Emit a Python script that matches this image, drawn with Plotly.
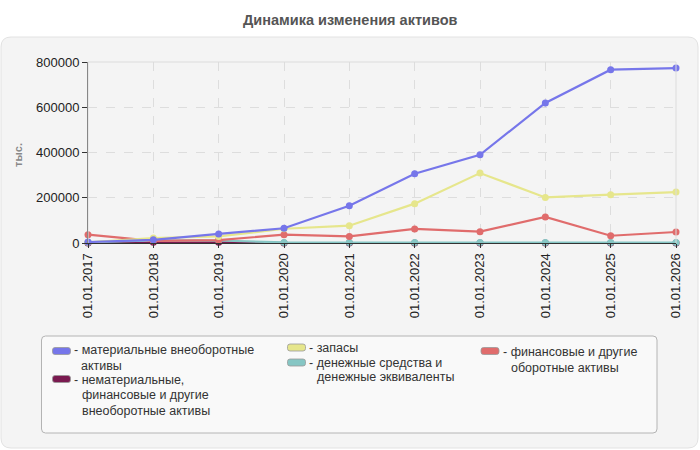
import plotly.graph_objects as go

dates = ["01.01.2017", "01.01.2018", "01.01.2019", "01.01.2020", "01.01.2021",
         "01.01.2022", "01.01.2023", "01.01.2024", "01.01.2025", "01.01.2026"]

tangible = [4000, 14000, 40000, 65000, 165000, 306000, 390000, 619000, 766000, 773000]
intangible = [0, 3000, 3000, 0, 0, 0, 0, 0, 0, 0]
inventory = [3000, 22000, 29000, 63000, 76500, 174000, 309000, 201500, 213500, 225000]
cash = [3000, 12000, 11000, 2500, 2000, 2000, 2000, 2000, 2000, 2000]
fin_current = [36700, 9000, 13000, 36700, 29000, 62000, 50000, 115000, 32000, 48600]

series = [
    ("материальные внеоборотные активы", tangible, "#7676ea"),
    ("нематериальные, финансовые и другие внеоборотные активы", intangible, "#7a1a50"),
    ("запасы", inventory, "#e6e68c"),
    ("денежные средства и денежные эквиваленты", cash, "#86c6c4"),
    ("финансовые и другие оборотные активы", fin_current, "#e06c6c"),
]
draw_order = [1, 3, 4, 2, 0]

W, H = 700, 450
L, R, T, B = 88, 676, 62, 243
PW, PH = R - L, B - T


def px(x):
    return (x - L) / PW


def py(y):
    return (B - y) / PH


fig = go.Figure()
xi = list(range(len(dates)))
for i in draw_order:
    name, vals, col = series[i]
    fig.add_trace(go.Scatter(
        x=xi, y=vals, name=name, mode="lines+markers",
        line=dict(color=col, width=2.2),
        marker=dict(color=col, size=7),
        cliponaxis=False, showlegend=False,
    ))


def rrect(x0, y0, x1, y1, r):
    pts = []
    pts.append(f"M {px(x0 + r)},{py(y0)}")
    pts.append(f"L {px(x1 - r)},{py(y0)}")
    pts.append(f"Q {px(x1)},{py(y0)} {px(x1)},{py(y0 + r)}")
    pts.append(f"L {px(x1)},{py(y1 - r)}")
    pts.append(f"Q {px(x1)},{py(y1)} {px(x1 - r)},{py(y1)}")
    pts.append(f"L {px(x0 + r)},{py(y1)}")
    pts.append(f"Q {px(x0)},{py(y1)} {px(x0)},{py(y1 - r)}")
    pts.append(f"L {px(x0)},{py(y0 + r)}")
    pts.append(f"Q {px(x0)},{py(y0)} {px(x0 + r)},{py(y0)}")
    pts.append("Z")
    return " ".join(pts)


shapes = [
    dict(type="path", xref="paper", yref="paper", path=rrect(1, 37, 698, 448, 10),
         fillcolor="#f4f4f4", line=dict(color="#e2e2e2", width=1), layer="below"),
    dict(type="path", xref="paper", yref="paper", path=rrect(41.5, 336, 657, 433, 4),
         fillcolor="#f9f9f9", line=dict(color="#b4b4b4", width=1), layer="below"),
    dict(type="path", xref="paper", yref="paper",
         path="M 0,0 L 0,1 L 1,1 L 1,0",
         line=dict(color="#dcdcdc", width=1), layer="above"),
]

annotations = [
    dict(text="<b>Динамика изменения активов</b>", xref="paper", yref="paper",
         x=px(350), y=py(20), showarrow=False, xanchor="center", yanchor="middle",
         font=dict(size=14.5, color="#555555", family="Liberation Sans, Arial")),
    dict(text="<b>тыс.</b>", xref="paper", yref="paper", x=px(18), y=py(155),
         showarrow=False, textangle=-90, xanchor="center", yanchor="middle",
         font=dict(size=11, color="#888888", family="Liberation Sans, Arial")),
]

LF = dict(size=12.5, color="#333333", family="Liberation Sans, Arial")
NB = "\u00a0\u00a0"

legend_items = [
    (0, 52.5, 351, 73, [("- материальные внеоборотные<br>" + NB + "активы", 357.5)]),
    (1, 52.5, 379, 73, [("- нематериальные,", 379.5), ("финансовые и другие", 395), ("внеоборотные активы", 411)]),
    (2, 287.5, 347.5, 308, [("- запасы", 347.5)]),
    (3, 287.5, 362.5, 308, [("- денежные средства и", 363), ("денежные эквиваленты", 377)]),
    (4, 481, 351, 502, [("- финансовые и другие", 352), ("оборотные активы", 368)]),
]
for idx, sx, sy, tx, lines in legend_items:
    col = series[idx][2]
    shapes.append(dict(type="path", xref="paper", yref="paper",
                       path=rrect(sx, sy - 3.5, sx + 18, sy + 3.5, 2.5),
                       fillcolor=col, line=dict(color="#999999", width=0.8), layer="above"))
    for k, (t, ly) in enumerate(lines):
        xx = tx if k == 0 else tx + 8
        annotations.append(dict(text=t, xref="paper", yref="paper", x=px(xx), y=py(ly),
                                showarrow=False, xanchor="left", yanchor="middle",
                                align="left", font=LF, borderpad=0))

fig.update_layout(
    width=W, height=H,
    margin=dict(l=L, r=W - R, t=T, b=H - B, pad=0),
    paper_bgcolor="#ffffff",
    plot_bgcolor="#fafaf3",
    showlegend=False,
    shapes=shapes,
    annotations=annotations,
    font=dict(family="Liberation Sans, Arial", color="#222222"),
    xaxis=dict(
        tickmode="array", tickvals=xi, ticktext=dates, range=[0, len(dates) - 1],
        tickangle=-90, showgrid=True, gridcolor="#dddddd", griddash="dash", gridwidth=1,
        showline=True, linecolor="#333333", linewidth=1, ticks="outside", ticklen=4,
        tickcolor="#333333", tickfont=dict(size=13, color="#222222"), zeroline=False,
    ),
    yaxis=dict(
        range=[0, 800000], tickvals=[0, 200000, 400000, 600000, 800000],
        ticktext=["0", "200000", "400000", "600000", "800000"],
        showgrid=True, gridcolor="#dddddd", griddash="dash", gridwidth=1,
        showline=True, linecolor="#333333", linewidth=1, ticks="outside", ticklen=5,
        tickcolor="#333333", tickfont=dict(size=13, color="#222222"), zeroline=False,
    ),
)

fig.write_html("out.html", config={"displayModeBar": False},
               post_script="document.body.style.margin='0';document.body.style.overflow='hidden';")
